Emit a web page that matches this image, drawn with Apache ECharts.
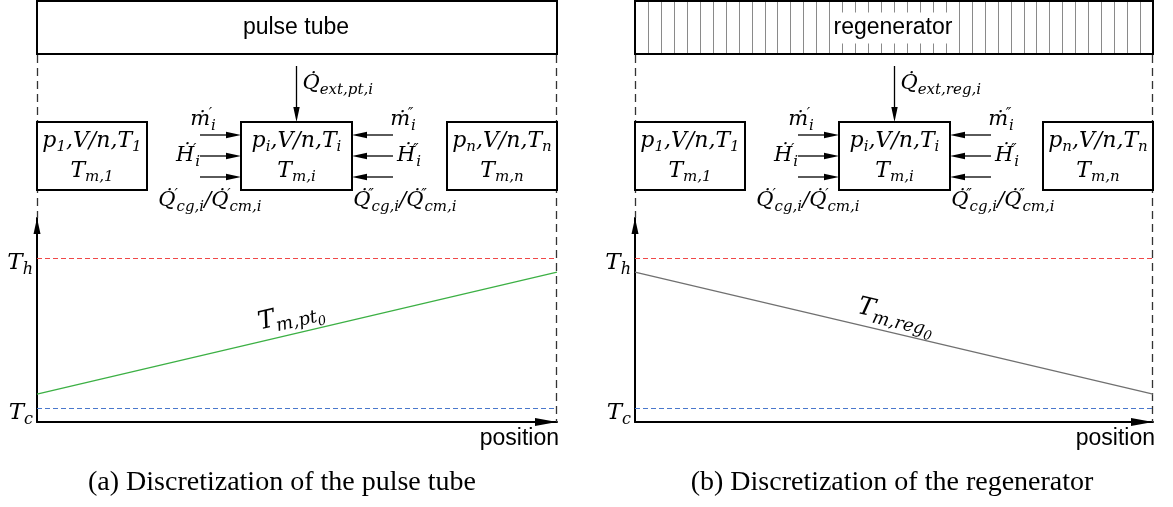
<!DOCTYPE html>
<html>
<head>
<meta charset="utf-8">
<script src="https://cdn.jsdelivr.net/npm/echarts@6/dist/echarts.min.js"></script>
<style>
  html, body { margin: 0; padding: 0; background: #fff; }
  #chart { width: 1173px; height: 507px; }
</style>
</head>
<body>
<div id="chart"></div>
<script>
// Normalised position along each component (0 = left end, 1 = right end)
const positions = [0, 1];
// Initial mean temperature profiles (arbitrary temperature units, axis runs 0..100)
const pulseTubeTemp = [13.7, 73.5];
const regeneratorTemp = [73.5, 13.7];
const hotTemp = 80.4;   // T_h
const coldTemp = 6.9;   // T_c
const tempAxisMax = 100;

// Text content
const panelTitles = ['pulse tube', 'regenerator'];
const captions = ['(a) Discretization of the pulse tube', '(b) Discretization of the regenerator'];
const extHeatSubs = ['ext,pt,i', 'ext,reg,i'];
const profileSubs = ['pt', 'reg'];
const cellIndices = ['1', 'i', 'n'];
const axisName = 'position';

const MATH = 'DejaVu Serif';
const SANS = 'Liberation Sans';

function mathRich(size) {
  const sub = Math.round(size * 0.7);
  const lh = size + 8;
  const base = { fontFamily: MATH, fontStyle: 'italic', color: '#000', lineHeight: lh };
  return {
    b: Object.assign({}, base, { fontSize: size }),
    s: Object.assign({}, base, { fontSize: sub, padding: [Math.round(size * 0.6), 0, 0, 0] }),
    ss: Object.assign({}, base, { fontSize: Math.round(size * 0.52), padding: [Math.round(size * 1.05), 0, 0, 0] }),
    p: Object.assign({}, base, { fontSize: sub, padding: [0, 0, Math.round(size * 0.5), 0], width: 1 })
  };
}
const RICH = mathRich(21);
const RICH_BOX = mathRich(22);
const RICH_AX = mathRich(23);
const RICH_PROFILE = mathRich(25);

const DOT = '\u0307';
const mText = (pr) => '{b|\u1E41}{p|' + pr + '}{s|i}';
const hText = (pr) => '{b|\u1E22}{p|' + pr + '}{s|i}';
const qText = (pr) => '{b|Q' + DOT + '}{p|' + pr + '}{s|cg,i}{b|/Q' + DOT + '}{p|' + pr + '}{s|cm,i}';
const cellText = (k) => '{b|p}{s|' + k + '}{b|,V/n,T}{s|' + k + '}\n{b|T}{s|m,' + k + '}';

function mathLabel(x, y, text, align, rich) {
  return {
    type: 'text', x: x, y: y, z: 20,
    style: { text: text, rich: rich || RICH, align: align || 'center', verticalAlign: 'middle' }
  };
}

function arrow(x1, y1, x2, y2, len, half) {
  const a = Math.atan2(y2 - y1, x2 - x1);
  const c = Math.cos(a), s = Math.sin(a);
  const bx = x2 - len * c, by = y2 - len * s;
  return [
    { type: 'line', z: 15, shape: { x1: x1, y1: y1, x2: bx, y2: by }, style: { stroke: '#000', lineWidth: 1.3 } },
    { type: 'polygon', z: 15, shape: { points: [[x2, y2], [bx - half * s, by + half * c], [bx + half * s, by - half * c]] },
      style: { fill: '#000' } }
  ];
}

const panels = [
  { x0: 37, w: 520 },
  { x0: 635, w: 518 }
];

const BOX_TOP = 122, BOX_H = 68;
const ARROW_Y = [135, 156, 177];

function panelGraphics(pi) {
  const P = panels[pi];
  const x0 = P.x0, w = P.w, x1 = x0 + w;
  const els = [];
  // component strip on top
  els.push({ type: 'rect', z: 5, shape: { x: x0, y: 1, width: w, height: 53 },
    style: { fill: '#fff', stroke: '#000', lineWidth: 2 } });
  if (pi === 1) {
    const n = 40;
    for (let k = 1; k < n; k++) {
      const xx = Math.round(x0 + k * w / n) + 0.5;
      els.push({ type: 'line', z: 6, shape: { x1: xx, y1: 2, x2: xx, y2: 53 },
        style: { stroke: '#8a8a8a', lineWidth: 1 } });
    }
  }
  els.push({ type: 'text', z: 8, x: x0 + w / 2 - 1, y: 28,
    style: { text: panelTitles[pi], fontFamily: SANS, fontSize: 23, fill: '#000',
      align: 'center', verticalAlign: 'middle',
      backgroundColor: pi === 1 ? '#fff' : null, padding: pi === 1 ? [5, 3, 3, 3] : 0 } });

  // dashed boundaries
  els.push({ type: 'line', z: 3, shape: { x1: x0 + 0.5, y1: 55, x2: x0 + 0.5, y2: 218 },
    style: { stroke: '#333', lineWidth: 1.3, lineDash: [8, 5] } });
  els.push({ type: 'line', z: 3, shape: { x1: x1 - 0.5, y1: 55, x2: x1 - 0.5, y2: 422 },
    style: { stroke: '#333', lineWidth: 1.3, lineDash: [8, 5] } });

  // control volumes
  const boxX = [x0, x0 + 204, x1 - 110];
  const boxW = [110, 111, 110];
  boxX.forEach((bx, k) => {
    els.push({ type: 'rect', z: 10, shape: { x: bx, y: BOX_TOP, width: boxW[k], height: BOX_H },
      style: { fill: '#fff', stroke: '#000', lineWidth: 2 } });
    els.push(mathLabel(bx + boxW[k] / 2, BOX_TOP + BOX_H / 2, cellText(cellIndices[k]), 'center', RICH_BOX));
  });

  // flows into cell i
  const li = boxX[1], ri = boxX[1] + boxW[1];
  ARROW_Y.forEach((yy) => {
    els.push(...arrow(li - 41, yy, li, yy, 15, 3.2));
    els.push(...arrow(ri + 41, yy, ri, yy, 15, 3.2));
  });
  const ax = li + 55.5;
  els.push(...arrow(ax, 66, ax, BOX_TOP, 15, 3.2));
  els.push(mathLabel(ax + 6, 84, '{b|Q' + DOT + '}{s|' + extHeatSubs[pi] + '}', 'left'));

  els.push(mathLabel(x0 + 166, 120, mText('\u2032')));
  els.push(mathLabel(x0 + 151, 156, hText('\u2032')));
  els.push(mathLabel(x0 + 173, 201, qText('\u2032')));
  els.push(mathLabel(x0 + 366, 120, mText('\u2033')));
  els.push(mathLabel(x0 + 372, 156, hText('\u2033')));
  els.push(mathLabel(x0 + 368, 201, qText('\u2033')));
  return els;
}

const chart = echarts.init(document.getElementById('chart'), null, { renderer: 'canvas' });

const refLines = () => ({
  silent: true,
  symbol: ['none', 'none'],
  label: { position: 'start', distance: 4, rich: RICH_AX, padding: [10, 0, 0, 0] },
  data: [
    { yAxis: hotTemp, lineStyle: { color: '#f04848', type: [5, 3], width: 1.2 },
      label: { formatter: '{b|T}{s|h}' } },
    { yAxis: coldTemp, lineStyle: { color: '#4a78cc', type: [5, 3], width: 1.2 },
      label: { formatter: '{b|T}{s|c}' } }
  ]
});

const option = {
  animation: false,
  backgroundColor: '#fff',
  grid: panels.map(p => ({ left: p.x0, top: 218, width: p.w, height: 204 })),
  xAxis: panels.map((p, i) => ({
    type: 'value', gridIndex: i, min: positions[0], max: positions[positions.length - 1],
    axisLine: { lineStyle: { color: '#000', width: 2 }, symbol: ['none', 'triangle'],
      symbolSize: [8, 22], symbolOffset: [0, -11] },
    axisTick: { show: false }, axisLabel: { show: false }, splitLine: { show: false },
    name: axisName, nameLocation: 'end', nameGap: 2,
    nameTextStyle: { fontFamily: SANS, fontSize: 23, color: '#000', align: 'right',
      verticalAlign: 'top', padding: [5, 0, 0, 0] }
  })),
  yAxis: panels.map((p, i) => ({
    type: 'value', gridIndex: i, min: 0, max: tempAxisMax,
    axisLine: { lineStyle: { color: '#000', width: 2 }, symbol: ['none', 'triangle'],
      symbolSize: [7, 16], symbolOffset: [0, -8] },
    axisTick: { show: false }, axisLabel: { show: false }, splitLine: { show: false }
  })),
  series: [
    { type: 'line', xAxisIndex: 0, yAxisIndex: 0, symbol: 'none',
      data: positions.map((x, k) => [x, pulseTubeTemp[k]]),
      lineStyle: { color: '#3cb044', width: 1.3 }, markLine: refLines() },
    { type: 'line', xAxisIndex: 1, yAxisIndex: 1, symbol: 'none',
      data: positions.map((x, k) => [x, regeneratorTemp[k]]),
      lineStyle: { color: '#707070', width: 1.3 }, markLine: refLines() }
  ]
};
chart.setOption(option);

// Graphics: component strips, control volumes, profile names and captions
const elements = [];
panels.forEach((p, i) => elements.push(...panelGraphics(i)));

[pulseTubeTemp, regeneratorTemp].forEach((temps, i) => {
  const a = chart.convertToPixel({ gridIndex: i }, [positions[0], temps[0]]);
  const b = chart.convertToPixel({ gridIndex: i }, [positions[1], temps[1]]);
  const ang = Math.atan2(b[1] - a[1], b[0] - a[0]);
  const mx = (a[0] + b[0]) / 2, my = (a[1] + b[1]) / 2;
  const off = 18;
  elements.push({
    type: 'text', z: 20, x: mx + off * Math.sin(ang) - 2, y: my - off * Math.cos(ang), rotation: -ang,
    style: { text: '{b|T}{s|m,' + profileSubs[i] + '}{ss|0}', rich: RICH_PROFILE, align: 'center', verticalAlign: 'middle' }
  });
});

const captionX = [282, 892];
captions.forEach((c, i) => {
  elements.push({ type: 'text', z: 20, x: captionX[i], y: 483,
    style: { text: c, fontFamily: 'Liberation Serif', fontSize: 28, fill: '#000',
      align: 'center', verticalAlign: 'middle' } });
});

chart.setOption({ graphic: { elements: elements } });
</script>
</body>
</html>
